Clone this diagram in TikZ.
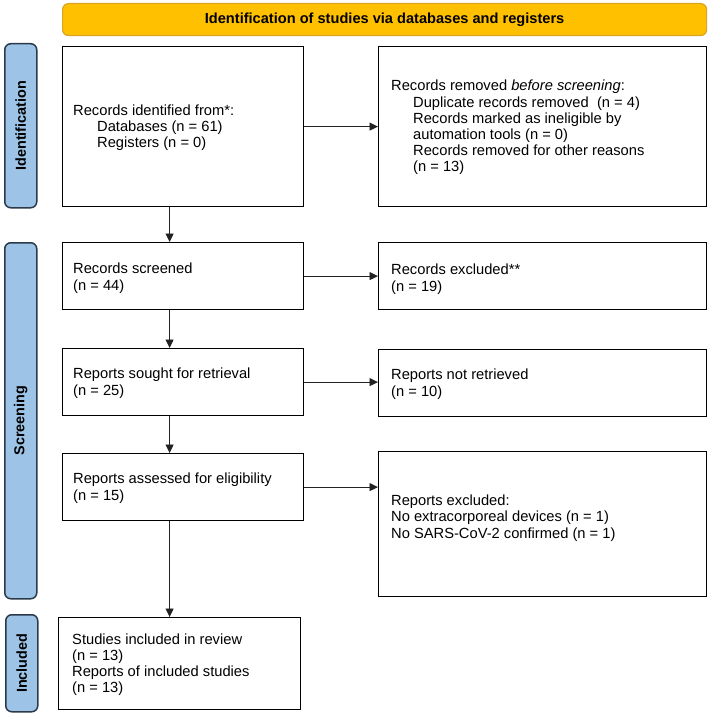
\documentclass[tikz,border=0pt]{standalone}
\usepackage{fontspec}
\setmainfont{Liberation Sans}
\usetikzlibrary{arrows.meta,calc}
\definecolor{gold}{HTML}{FFC000}
\definecolor{goldline}{HTML}{D9A520}
\definecolor{barblue}{HTML}{9DC3E6}
\definecolor{barline}{HTML}{2B3A4A}
\definecolor{arrowc}{HTML}{222222}
\tikzset{
  x=1pt, y=-1pt,
  banner/.style={draw=goldline, line width=1.2pt, fill=gold, rounded corners=6pt,
    font=\fontsize{14.6}{16.5}\selectfont\bfseries},
  phasebar/.style={draw=barline, line width=1.5pt, fill=barblue, rounded corners=6pt},
  phaselabel/.style={rotate=90, font=\fontsize{14.4}{16.5}\selectfont\bfseries},
  flowbox/.style={draw=black, line width=1.2pt, anchor=north west,
    inner sep=0pt},
  boxtext/.style={anchor=west, align=left, inner sep=0pt,
    font=\fontsize{14.7}{16.2}\selectfont},
  conn/.style={draw=arrowc, line width=0.9pt, -{Triangle[length=8.5pt,width=8pt]}}
}
\begin{document}
\begin{tikzpicture}
\useasboundingbox (0,0) rectangle (708,714);
% banner
\node[banner, minimum width=644pt, minimum height=32pt, anchor=north west] (title) at (62,3)
  {Identification of studies via databases and registers};
% phase bars
\node[phasebar, minimum width=32pt, minimum height=164pt, anchor=north west] (pid) at (4,43) {};
\node[phaselabel] (pidt) at (pid.center) {Identification};
\node[phasebar, minimum width=32pt, minimum height=356pt, anchor=north west] (psc) at (4,242) {};
\node[phaselabel] (psct) at (psc.center) {Screening};
\node[phasebar, minimum width=32pt, minimum height=97pt, anchor=north west] (pin) at (5,614) {};
\node[phaselabel] (pint) at (pin.center) {Included};
% boxes
\node[flowbox, minimum width=241pt, minimum height=160pt] (b1) at (62,46) {};
\node[boxtext] (b1t) at ($(b1.west)+(11,1)$)
  {Records identified from*:\\\hspace*{24pt}Databases (n = 61)\\\hspace*{24pt}Registers (n = 0)};
\node[flowbox, minimum width=328pt, minimum height=160pt] (b2) at (378,46) {};
\node[boxtext] (b2t) at ($(b2.west)+(13,1)$)
  {Records removed \textit{before screening}:\\
   \hspace*{22pt}Duplicate records removed\ \ (n = 4)\\
   \hspace*{22pt}Records marked as ineligible by\\
   \hspace*{22pt}automation tools (n = 0)\\
   \hspace*{22pt}Records removed for other reasons\\
   \hspace*{22pt}(n = 13)};
\node[flowbox, minimum width=241pt, minimum height=67pt] (b3) at (62,242) {};
\node[boxtext] (b3t) at ($(b3.west)+(11,2)$)
  {Records screened\\(n = 44)};
\node[flowbox, minimum width=328pt, minimum height=67pt] (b4) at (378,242) {};
\node[boxtext] (b4t) at ($(b4.west)+(13,3)$)
  {Records excluded**\\(n = 19)};
\node[flowbox, minimum width=241pt, minimum height=67pt] (b5) at (62,348) {};
\node[boxtext] (b5t) at ($(b5.west)+(11,1)$)
  {Reports sought for retrieval\\(n = 25)};
\node[flowbox, minimum width=328pt, minimum height=67pt] (b6) at (378,349) {};
\node[boxtext] (b6t) at ($(b6.west)+(13,1)$)
  {Reports not retrieved\\(n = 10)};
\node[flowbox, minimum width=241pt, minimum height=67pt] (b7) at (62,453) {};
\node[boxtext] (b7t) at ($(b7.west)+(11,1)$)
  {Reports assessed for eligibility\\(n = 15)};
\node[flowbox, minimum width=328pt, minimum height=145pt] (b8) at (378,451) {};
\node[boxtext] (b8t) at ($(b8.west)+(13,-6)$)
  {Reports excluded:\\No extracorporeal devices (n = 1)\\No SARS-CoV-2 confirmed (n = 1)};
\node[flowbox, minimum width=242pt, minimum height=92pt] (b9) at (58,617) {};
\node[boxtext] (b9t) at ($(b9.west)+(14,1)$)
  {Studies included in review\\(n = 13)\\Reports of included studies\\(n = 13)};
% connectors
\draw[conn] (b1.east) -- (b2.west);
\draw[conn] (b3.east) -- (b3.east -| b4.west);
\draw[conn] (b5.east) -- (b5.east -| b6.west);
\draw[conn] (b7.east) -- (b7.east -| b8.west);
\coordinate (c1) at ($(b1.south)+(-13.5,0)$);
\draw[conn] (c1) -- (c1 |- b3.north);
\coordinate (c3) at ($(b3.south)+(-13.5,0)$);
\draw[conn] (c3) -- (c3 |- b5.north);
\coordinate (c5) at ($(b5.south)+(-13.5,0)$);
\draw[conn] (c5) -- (c5 |- b7.north);
\coordinate (c7) at ($(b7.south)+(-13.5,0)$);
\draw[conn] (c7) -- (c7 |- b9.north);
\end{tikzpicture}
\end{document}
